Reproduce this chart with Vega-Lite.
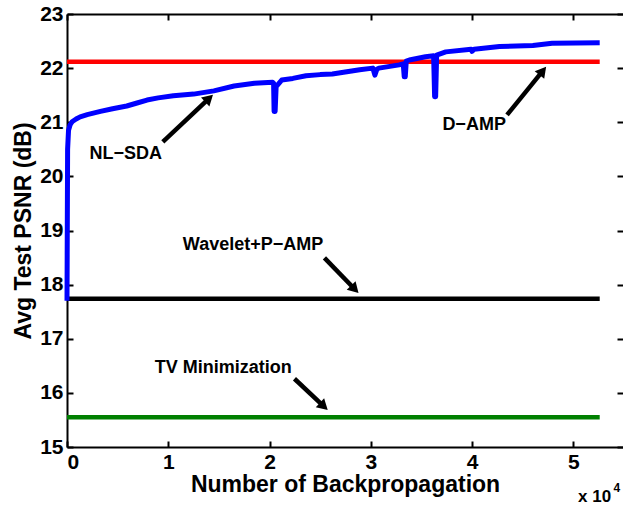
{
  "$schema": "https://vega.github.io/schema/vega-lite/v6.json",
  "width": 556,
  "height": 433,
  "autosize": {"type": "none"},
  "padding": {"left": 67, "top": 14, "right": 0, "bottom": 59},
  "background": "white",
  "config": {
    "view": {"stroke": null},
    "font": "Liberation Sans",
    "axis": {
      "grid": false,
      "domainColor": "black",
      "domainWidth": 2,
      "tickColor": "black",
      "tickWidth": 2,
      "labelColor": "black",
      "titleColor": "black",
      "labelFont": "Liberation Sans",
      "titleFont": "Liberation Sans",
      "labelFontWeight": "bold",
      "titleFontWeight": "bold",
      "labelFontSize": 21,
      "titleFontSize": 23
    }
  },
  "datasets": {
    "nlsda": [
      {"x": 0, "y": 17.7}, {"x": 60, "y": 20.5}, {"x": 150, "y": 20.85}, {"x": 300, "y": 20.95},
      {"x": 500, "y": 21.01}, {"x": 900, "y": 21.06}, {"x": 1300, "y": 21.1}, {"x": 2000, "y": 21.14},
      {"x": 3300, "y": 21.2}, {"x": 4500, "y": 21.25}, {"x": 5900, "y": 21.3}, {"x": 7000, "y": 21.36},
      {"x": 7900, "y": 21.41}, {"x": 9000, "y": 21.45}, {"x": 10500, "y": 21.49}, {"x": 12500, "y": 21.52},
      {"x": 14500, "y": 21.58}, {"x": 16500, "y": 21.67}, {"x": 18500, "y": 21.72}, {"x": 20300, "y": 21.74},
      {"x": 20400, "y": 21.72}, {"x": 20450, "y": 21.2}, {"x": 20550, "y": 21.2}, {"x": 20650, "y": 21.66},
      {"x": 21200, "y": 21.78}, {"x": 22300, "y": 21.81}, {"x": 23600, "y": 21.86}, {"x": 25000, "y": 21.88},
      {"x": 26200, "y": 21.89}, {"x": 28900, "y": 21.97}, {"x": 30200, "y": 22.0}, {"x": 30400, "y": 21.87},
      {"x": 30600, "y": 21.98}, {"x": 30800, "y": 22.0}, {"x": 32800, "y": 22.06}, {"x": 33200, "y": 22.08},
      {"x": 33300, "y": 21.84}, {"x": 33400, "y": 21.84}, {"x": 33500, "y": 22.13}, {"x": 33800, "y": 22.15},
      {"x": 35400, "y": 22.21}, {"x": 36200, "y": 22.23}, {"x": 36300, "y": 21.47}, {"x": 36400, "y": 21.47},
      {"x": 36500, "y": 22.24}, {"x": 37400, "y": 22.3}, {"x": 39900, "y": 22.35}, {"x": 40000, "y": 22.31},
      {"x": 40200, "y": 22.35}, {"x": 42700, "y": 22.4}, {"x": 46000, "y": 22.42}, {"x": 47900, "y": 22.46},
      {"x": 52600, "y": 22.47}
    ],
    "baselines": [
      {"method": "D-AMP", "x": 0, "y": 22.12}, {"method": "D-AMP", "x": 52600, "y": 22.12},
      {"method": "Wavelet+P-AMP", "x": 0, "y": 17.74}, {"method": "Wavelet+P-AMP", "x": 52600, "y": 17.74},
      {"method": "TV Minimization", "x": 0, "y": 15.55}, {"method": "TV Minimization", "x": 52600, "y": 15.55}
    ],
    "labels": [
      {"text": "NL−SDA", "x": 5800, "y": 20.42},
      {"text": "D−AMP", "x": 40200, "y": 20.95},
      {"text": "Wavelet+P−AMP", "x": 18370, "y": 18.735},
      {"text": "TV Minimization", "x": 15420, "y": 16.46}
    ],
    "arrows": [
      {"name": "NL-SDA", "x": 9460, "y": 20.637, "x2": 14030, "y2": 21.442},
      {"name": "D-AMP", "x": 43450, "y": 21.135, "x2": 46980, "y2": 21.949},
      {"name": "Wavelet+P-AMP", "x": 25420, "y": 18.495, "x2": 28420, "y2": 17.915},
      {"name": "TV Minimization", "x": 22460, "y": 16.261, "x2": 25360, "y2": 15.751}
    ],
    "exponent": [
      {"text": "x 10", "x": 52090, "y": 13.98},
      {"text": "4", "x": 54300, "y": 14.17}
    ]
  },
  "layer": [
    {
      "data": {"name": "baselines"},
      "mark": {"type": "line", "strokeWidth": 4.5, "strokeCap": "butt"},
      "encoding": {
        "x": {"field": "x", "type": "quantitative",
          "scale": {"domain": [0, 54900], "nice": false, "zero": false},
          "axis": {"orient": "bottom", "values": [0, 10000, 20000, 30000, 40000, 50000],
            "labelExpr": "datum.value / 10000", "tickSize": -6, "labelPadding": 10,
            "title": "Number of Backpropagation", "titlePadding": 1}},
        "y": {"field": "y", "type": "quantitative",
          "scale": {"domain": [15, 23], "nice": false, "zero": false},
          "axis": {"orient": "left", "values": [15, 16, 17, 18, 19, 20, 21, 22, 23],
            "tickSize": -6, "labelPadding": 10, "title": "Avg Test PSNR (dB)", "titlePadding": 4}},
        "color": {"field": "method", "type": "nominal",
          "scale": {"domain": ["D-AMP", "Wavelet+P-AMP", "TV Minimization"], "range": ["#ff0000", "#000000", "#008000"]},
          "legend": null}
      }
    },
    {
      "data": {"name": "nlsda"},
      "mark": {"type": "line", "strokeWidth": 5, "color": "#0000ff", "strokeJoin": "round"},
      "encoding": {
        "x": {"field": "x", "type": "quantitative",
          "axis": {"orient": "top", "values": [0, 10000, 20000, 30000, 40000, 50000], "labels": false,
            "tickSize": -6, "title": null, "domain": true}},
        "y": {"field": "y", "type": "quantitative",
          "axis": {"orient": "right", "values": [15, 16, 17, 18, 19, 20, 21, 22, 23], "labels": false,
            "tickSize": -6, "title": null, "domain": false}}
      }
    },
    {
      "data": {"name": "arrows"},
      "mark": {"type": "rule", "strokeWidth": 4.5, "color": "black", "strokeCap": "butt"},
      "encoding": {
        "x": {"field": "x", "type": "quantitative", "axis": null},
        "y": {"field": "y", "type": "quantitative", "axis": null},
        "x2": {"field": "x2"},
        "y2": {"field": "y2"}
      }
    },
    {
      "data": {"name": "arrows"},
      "transform": [{"filter": "datum.name == 'NL-SDA'"}],
      "mark": {"type": "point", "shape": "triangle-up", "filled": true, "color": "black", "opacity": 1, "size": 150, "angle": 47},
      "encoding": {
        "x": {"field": "x2", "type": "quantitative", "axis": null},
        "y": {"field": "y2", "type": "quantitative", "axis": null}
      }
    },
    {
      "data": {"name": "arrows"},
      "transform": [{"filter": "datum.name == 'D-AMP'"}],
      "mark": {"type": "point", "shape": "triangle-up", "filled": true, "color": "black", "opacity": 1, "size": 150, "angle": 39},
      "encoding": {
        "x": {"field": "x2", "type": "quantitative", "axis": null},
        "y": {"field": "y2", "type": "quantitative", "axis": null}
      }
    },
    {
      "data": {"name": "arrows"},
      "transform": [{"filter": "datum.name == 'Wavelet+P-AMP'"}],
      "mark": {"type": "point", "shape": "triangle-up", "filled": true, "color": "black", "opacity": 1, "size": 150, "angle": 136},
      "encoding": {
        "x": {"field": "x2", "type": "quantitative", "axis": null},
        "y": {"field": "y2", "type": "quantitative", "axis": null}
      }
    },
    {
      "data": {"name": "arrows"},
      "transform": [{"filter": "datum.name == 'TV Minimization'"}],
      "mark": {"type": "point", "shape": "triangle-up", "filled": true, "color": "black", "opacity": 1, "size": 150, "angle": 133},
      "encoding": {
        "x": {"field": "x2", "type": "quantitative", "axis": null},
        "y": {"field": "y2", "type": "quantitative", "axis": null}
      }
    },
    {
      "data": {"name": "labels"},
      "mark": {"type": "text", "fontSize": 18, "fontWeight": "bold", "font": "Liberation Sans", "color": "black", "align": "center", "baseline": "middle"},
      "encoding": {
        "x": {"field": "x", "type": "quantitative", "axis": null},
        "y": {"field": "y", "type": "quantitative", "axis": null},
        "text": {"field": "text"}
      }
    },
    {
      "data": {"name": "exponent"},
      "transform": [{"filter": "datum.text == 'x 10'"}],
      "mark": {"type": "text", "fontSize": 17, "fontWeight": "bold", "font": "Liberation Sans", "color": "black", "align": "center", "baseline": "alphabetic"},
      "encoding": {
        "x": {"field": "x", "type": "quantitative", "axis": null},
        "y": {"field": "y", "type": "quantitative", "axis": null},
        "text": {"field": "text"}
      }
    },
    {
      "data": {"name": "exponent"},
      "transform": [{"filter": "datum.text == '4'"}],
      "mark": {"type": "text", "fontSize": 12, "fontWeight": "bold", "font": "Liberation Sans", "color": "black", "align": "center", "baseline": "alphabetic"},
      "encoding": {
        "x": {"field": "x", "type": "quantitative", "axis": null},
        "y": {"field": "y", "type": "quantitative", "axis": null},
        "text": {"field": "text"}
      }
    }
  ],
  "resolve": {"axis": {"x": "independent", "y": "independent"}}
}
